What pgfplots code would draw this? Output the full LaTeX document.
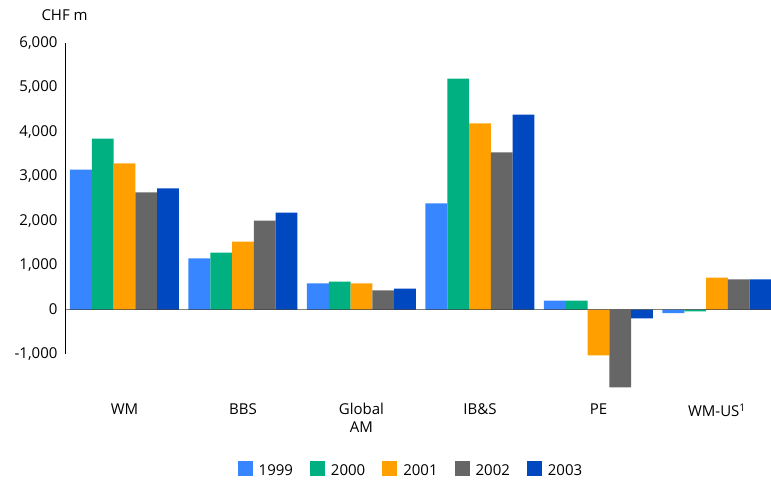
\documentclass[border=0pt]{standalone}
\usepackage{fontspec}
\setmainfont{Open Sans}
\usepackage{pgfplots}
\pgfplotsset{compat=1.18}
\definecolor{c1999}{RGB}{56,134,255}
\definecolor{c2000}{RGB}{0,176,128}
\definecolor{c2001}{RGB}{255,160,0}
\definecolor{c2002}{RGB}{102,102,102}
\definecolor{c2003}{RGB}{0,72,192}
\begin{document}
\begin{tikzpicture}[font=\fontsize{15}{18}\selectfont]
\useasboundingbox (0,0) rectangle (771pt,483pt);
\begin{axis}[
  at={(65pt,129pt)}, anchor=south west,
  scale only axis, width=706pt, height=311pt,
  xmin=-0.502, xmax=5.456, ymin=-1000, ymax=6000,
  clip=false,
  axis lines*=left,
  x axis line style={draw=none},
  y axis line style={black, line width=0.8pt},
  major tick length=0pt,
  ytick={-1000,0,1000,2000,3000,4000,5000,6000},
  yticklabels={{-1,000},{0},{1,000},{2,000},{3,000},{4,000},{5,000},{6,000}},
  yticklabel style={xshift=-4pt},
  xtick={0,1,2,3,4,5},
  xticklabels={WM,BBS,{Global\\AM},IB\&S,PE,{WM-US\textsuperscript{1}}},
  xticklabel style={align=center, anchor=north, yshift=-46pt},
  legend style={at={(0.49,-0.372)}, anchor=center, draw=none,
    legend columns=5,
    /tikz/every odd column/.append style={column sep=4pt},
    /tikz/every even column/.append style={column sep=15pt}},
  legend image code/.code={\fill[#1] (0pt,-5.5pt) rectangle (15pt,9.5pt);},
]
\addplot[ybar, bar width=0.184, bar shift=-0.368, fill=c1999, draw=none]
  coordinates {(0,3150) (1,1150) (2,590) (3,2390) (4,200) (5,-80)};
\addplot[ybar, bar width=0.184, bar shift=-0.184, fill=c2000, draw=none]
  coordinates {(0,3850) (1,1280) (2,630) (3,5200) (4,200) (5,-40)};
\addplot[ybar, bar width=0.184, bar shift=0, fill=c2001, draw=none]
  coordinates {(0,3290) (1,1530) (2,590) (3,4190) (4,-1030) (5,720)};
\addplot[ybar, bar width=0.184, bar shift=0.184, fill=c2002, draw=none]
  coordinates {(0,2640) (1,2000) (2,430) (3,3540) (4,-1750) (5,680)};
\addplot[ybar, bar width=0.184, bar shift=0.368, fill=c2003, draw=none]
  coordinates {(0,2730) (1,2180) (2,470) (3,4390) (4,-200) (5,680)};
\legend{1999,2000,2001,2002,2003}
\draw[black, opacity=0.5, line width=1.2pt] (axis cs:-0.502,0) -- (axis cs:5.456,0);
\end{axis}
\node[anchor=west] at (38pt,468pt) {CHF m};
\end{tikzpicture}
\end{document}
